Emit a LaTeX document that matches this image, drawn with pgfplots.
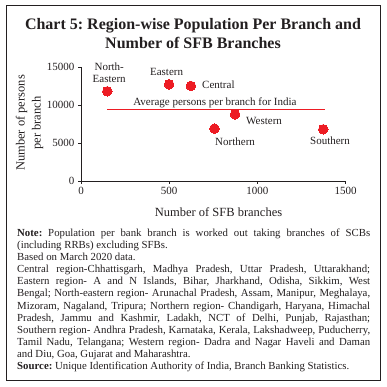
\documentclass[border=0pt]{standalone}
\usepackage{pgfplots}
\pgfplotsset{compat=1.18}
\usepackage{fontspec}
\setmainfont{Liberation Serif}
\frenchspacing
\definecolor{rbired}{RGB}{237,28,36}
\definecolor{txt}{RGB}{35,31,32}
\begin{document}
\begin{tikzpicture}[x=1pt,y=1pt]
\path (0pt,0pt) rectangle (386pt,387pt);
\draw[line width=0.8pt,txt] (6.7pt,7pt) rectangle (380.5pt,382pt);
\node[anchor=base,font=\fontsize{16}{19}\selectfont\bfseries\frenchspacing,text=txt] at (193pt,357.7pt) {Chart 5: Region-wise Population Per Branch and};
\node[anchor=base,font=\fontsize{16}{19}\selectfont\bfseries,text=txt] at (193pt,338.7pt) {Number of SFB Branches};
\begin{axis}[
  at={(81pt,206pt)}, anchor=south west,
  scale only axis, width=264.7pt, height=113.7pt,
  xmin=0, xmax=1500, ymin=0, ymax=15000,
  axis lines=left, axis line style={-, line width=0.6pt, txt},
  tick align=outside, tick style={txt, line width=0.6pt}, major tick length=3pt,
  xtick={0,500,1000,1500}, ytick={0,5000,10000,15000},
  scaled x ticks=false, scaled y ticks=false,
  /pgf/number format/1000 sep={},
  /pgf/number format/assume math mode=true,
  tick label style={font=\fontsize{11}{12}\selectfont, text=txt},
  clip=false,
]
\addplot[rbired, line width=0.7pt] coordinates {(149,9457) (1383,9457)};
\addplot[only marks, mark=*, mark size=4.8pt, rbired, mark options={draw=rbired, fill=rbired, line width=0pt}] coordinates {
 (149,11833) (499,12757) (623,12537) (873,8798) (756,6906) (1373,6818)};
\begin{scope}[every node/.style={font=\fontsize{11}{12}\selectfont, text=txt, inner sep=1pt}]
\node[align=center] at (axis cs:160,14274) {North-\\Eastern};
\node at (axis cs:485,14340) {Eastern};
\node[anchor=west] at (axis cs:680,12700) {Central};
\node[anchor=west] at (axis cs:929,7955) {Western};
\node at (axis cs:873,5237) {Northern};
\node at (axis cs:1411,5370) {Southern};
\node at (axis cs:759,10330) {Average persons per branch for India};
\end{scope}
\end{axis}
\node[anchor=base,font=\fontsize{12.5}{14}\selectfont,text=txt] at (218.5pt,170.3pt) {Number of SFB branches};
\node[anchor=base,rotate=90,font=\fontsize{12.5}{14}\selectfont,text=txt] at (24.5pt,264pt) {Number of persons};
\node[anchor=base,rotate=90,font=\fontsize{12.5}{14}\selectfont,text=txt] at (40.5pt,264pt) {per branch};
\node[anchor=north west,inner sep=0pt,text width=353pt,align=justify,font=\fontsize{10.8}{12.1}\selectfont\frenchspacing,text=txt] at (17pt,158.4pt) {%
\emergencystretch=1em
\textbf{Note:} Population per bank branch is worked out taking branches of SCBs\linebreak
(including RRBs) excluding SFBs.\par
Based on March 2020 data.\par
Central region-Chhattisgarh, Madhya Pradesh, Uttar Pradesh, Uttarakhand;\linebreak
Eastern region- A and N Islands, Bihar, Jharkhand, Odisha, Sikkim, West\linebreak
Bengal; North-eastern region- Arunachal Pradesh, Assam, Manipur, Meghalaya,\linebreak
Mizoram, Nagaland, Tripura; Northern region- Chandigarh, Haryana, Himachal\linebreak
Pradesh, Jammu and Kashmir, Ladakh, NCT of Delhi, Punjab, Rajasthan;\linebreak
Southern region- Andhra Pradesh, Karnataka, Kerala, Lakshadweep, Puducherry,\linebreak
Tamil Nadu, Telangana; Western region- Dadra and Nagar Haveli and Daman\linebreak
and Diu, Goa, Gujarat and Maharashtra.\par
\textbf{Source:} Unique Identification Authority of India, Branch Banking Statistics.};
\end{tikzpicture}
\end{document}
